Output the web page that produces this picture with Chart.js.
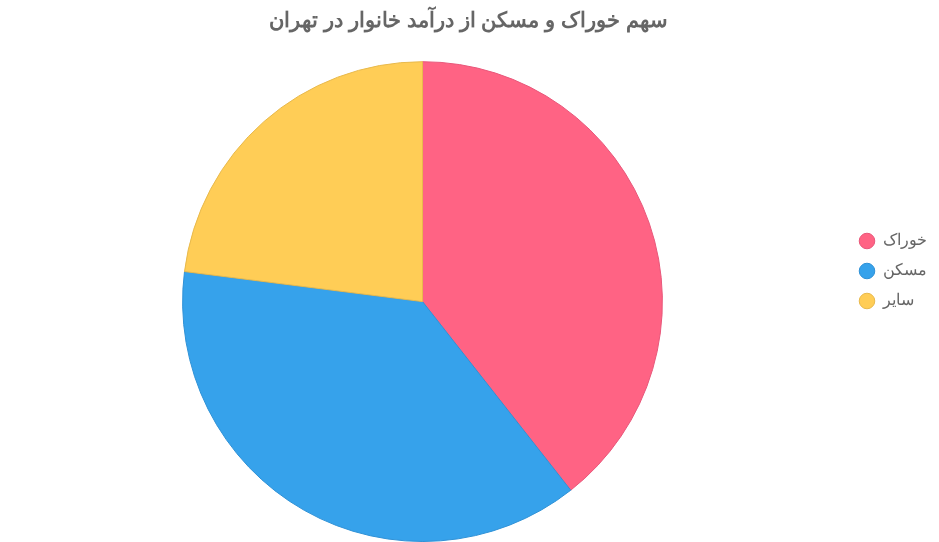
<!DOCTYPE html>
<html lang="fa">
<head>
<meta charset="utf-8">
<title>سهم خوراک و مسکن</title>
<script src="https://cdn.jsdelivr.net/npm/chart.js@4"></script>
<style>
    html, body { margin: 0; padding: 0; background: #ffffff; }
    #wrap { width: 939px; height: 542px; }
</style>
</head>
<body>
<div id="wrap"><canvas id="shareChart"></canvas></div>
<script>
// Household income shares, Tehran
const categories = ['خوراک', 'مسکن', 'سایر'];
const shareValues = [39.4, 37.6, 23.0];

const fillColors = ['#ff6384', '#36a2eb', '#ffcd56'];
const edgeColors = ['#e8577a', '#2f91d6', '#e8b94c'];

Chart.defaults.font.family = "'Liberation Sans', Arial, sans-serif";
Chart.defaults.color = '#666666';

new Chart(document.getElementById('shareChart'), {
    type: 'pie',
    data: {
        labels: categories,
        datasets: [{
            data: shareValues,
            backgroundColor: fillColors,
            borderColor: edgeColors,
            borderWidth: 1
        }]
    },
    options: {
        responsive: true,
        maintainAspectRatio: false,
        animation: false,
        layout: { padding: { right: 2 } },
        plugins: {
            title: {
                display: true,
                text: 'سهم خوراک و مسکن از درآمد خانوار در تهران',
                color: '#666666',
                font: { size: 21, weight: 'bold' },
                padding: { top: 9, bottom: 27 }
            },
            legend: {
                position: 'right',
                labels: {
                    usePointStyle: true,
                    pointStyle: 'circle',
                    boxHeight: 11,
                    color: '#666666',
                    font: { size: 16 },
                    padding: 14
                }
            },
            tooltip: { enabled: false }
        }
    }
});
</script>
</body>
</html>
